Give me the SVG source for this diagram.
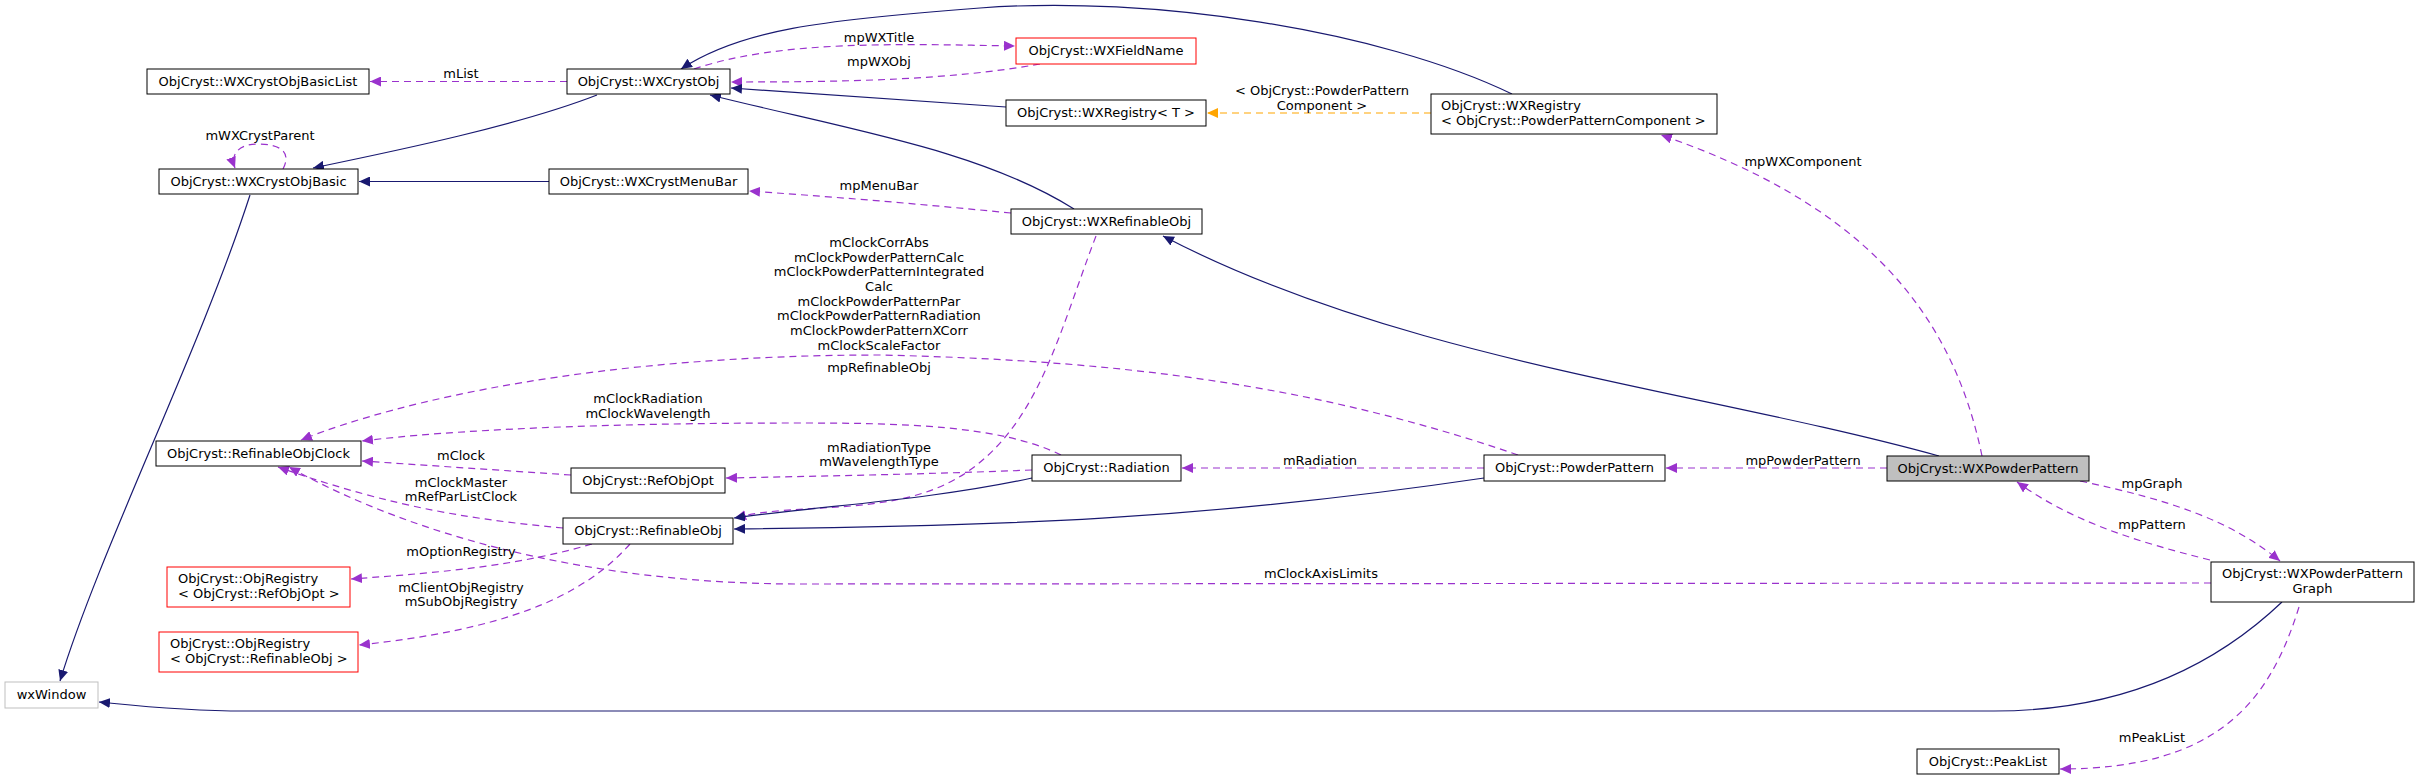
<svg xmlns="http://www.w3.org/2000/svg" width="2419" height="780" viewBox="0 0 2419 780">
<style>
text{font-family:"DejaVu Sans","Liberation Sans",sans-serif;font-size:13px;fill:#000}
.n rect{fill:#fff;stroke:#000;stroke-width:1}
.red rect{stroke:#ff0000}
.gray rect{stroke:#bfbfbf}
.sel rect{fill:#bfbfbf}
.c{text-anchor:middle}
.s{fill:none;stroke:#191970;stroke-width:1.2}
.d{fill:none;stroke:#9a32cd;stroke-width:1.2;stroke-dasharray:7,5}
.o{fill:none;stroke:#ffa500;stroke-width:1.2;stroke-dasharray:7,5}
</style>
<defs>
<marker id="an" markerUnits="userSpaceOnUse" markerWidth="12" markerHeight="10" refX="11" refY="5" orient="auto"><path d="M0,0L11,5L0,10z" fill="#191970"/></marker>
<marker id="ap" markerUnits="userSpaceOnUse" markerWidth="12" markerHeight="10" refX="11" refY="5" orient="auto"><path d="M0,0L11,5L0,10z" fill="#9a32cd"/></marker>
<marker id="ao" markerUnits="userSpaceOnUse" markerWidth="12" markerHeight="10" refX="11" refY="5" orient="auto"><path d="M0,0L11,5L0,10z" fill="#ffa500"/></marker>
</defs>
<rect width="2419" height="780" fill="#fff"/>
<g id="edges">
<path class="s" marker-end="url(#an)" d="M597,95C520,125 400,150 313,168"/>
<path class="s" marker-end="url(#an)" d="M549,181.5L359,181.5"/>
<path class="d" marker-end="url(#ap)" d="M283,169C292,152 280,144 258,144C238,144 230,155 235,168"/>
<text class="c" x="260" y="140">mWXCrystParent</text>
<path class="s" marker-end="url(#an)" d="M250,195C200,350 100,550 60,681"/>
<path class="d" marker-end="url(#ap)" d="M567,81.5L370,81.5"/>
<text class="c" x="461" y="78">mList</text>
<path class="s" marker-end="url(#an)" d="M1512,94C1380,30 1150,-5 980,8C820,20 740,30 681,69"/>
<path class="d" marker-end="url(#ap)" d="M694,69C780,40 900,44 1015,46"/>
<text class="c" x="879" y="42">mpWXTitle</text>
<path class="d" marker-end="url(#ap)" d="M1040,64C950,80 850,82 731,82"/>
<text class="c" x="879" y="66">mpWXObj</text>
<path class="s" marker-end="url(#an)" d="M1006,107L731,88"/>
<path class="s" marker-end="url(#an)" d="M1074,209C980,150 850,130 710,95"/>
<path class="o" marker-end="url(#ao)" d="M1431,113L1207,113"/>
<text class="c" x="1322" y="95">&lt; ObjCryst::PowderPattern</text>
<text class="c" x="1322" y="110">Component &gt;</text>
<path class="d" marker-end="url(#ap)" d="M1011,213C930,205 850,198 749,191"/>
<text class="c" x="879" y="190">mpMenuBar</text>
<path class="s" marker-end="url(#an)" d="M1939,456C1700,390 1400,360 1163,236"/>
<path class="d" marker-end="url(#ap)" d="M1982,456C1950,300 1850,200 1661,135"/>
<text class="c" x="1803" y="166">mpWXComponent</text>
<path class="d" marker-end="url(#ap)" d="M1096,236C1060,330 1040,420 970,470C900,520 800,500 735,518"/>
<text class="c" x="879" y="372">mpRefinableObj</text>
<path class="d" marker-end="url(#ap)" d="M1518,455C1300,380 1100,360 880,355C600,355 400,400 301,440"/>
<text class="c" x="879" y="247">mClockCorrAbs</text>
<text class="c" x="879" y="262">mClockPowderPatternCalc</text>
<text class="c" x="879" y="276">mClockPowderPatternIntegrated</text>
<text class="c" x="879" y="291">Calc</text>
<text class="c" x="879" y="306">mClockPowderPatternPar</text>
<text class="c" x="879" y="320">mClockPowderPatternRadiation</text>
<text class="c" x="879" y="335">mClockPowderPatternXCorr</text>
<text class="c" x="879" y="350">mClockScaleFactor</text>
<path class="d" marker-end="url(#ap)" d="M1061,455C1000,425 900,423 800,423C600,423 450,430 362,441"/>
<text class="c" x="648" y="403">mClockRadiation</text>
<text class="c" x="648" y="418">mClockWavelength</text>
<path class="d" marker-end="url(#ap)" d="M571,475L362,461"/>
<text class="c" x="461" y="460">mClock</text>
<path class="d" marker-end="url(#ap)" d="M563,528C480,520 400,510 278,467"/>
<text class="c" x="461" y="487">mClockMaster</text>
<text class="c" x="461" y="501">mRefParListClock</text>
<path class="d" marker-end="url(#ap)" d="M1032,470C930,474 830,476 726,478"/>
<text class="c" x="879" y="452">mRadiationType</text>
<text class="c" x="879" y="466">mWavelengthType</text>
<path class="s" marker-end="url(#an)" d="M1032,478C930,500 830,505 734,518"/>
<path class="s" marker-end="url(#an)" d="M1484,478C1200,520 1000,526 734,529"/>
<path class="d" marker-end="url(#ap)" d="M1484,468L1182,468"/>
<text class="c" x="1320" y="465">mRadiation</text>
<path class="d" marker-end="url(#ap)" d="M1887,468L1666,468"/>
<text class="c" x="1803" y="465">mpPowderPattern</text>
<path class="d" marker-end="url(#ap)" d="M2080,481C2170,500 2230,520 2280,561"/>
<text class="c" x="2152" y="488">mpGraph</text>
<path class="d" marker-end="url(#ap)" d="M2210,560C2130,540 2070,520 2017,482"/>
<text class="c" x="2152" y="529">mpPattern</text>
<path class="d" marker-end="url(#ap)" d="M2211,583L800,584C600,584 420,540 289,467"/>
<text class="c" x="1321" y="578">mClockAxisLimits</text>
<path class="d" marker-end="url(#ap)" d="M592,544C520,565 450,572 351,579"/>
<text class="c" x="461" y="556">mOptionRegistry</text>
<path class="d" marker-end="url(#ap)" d="M630,544C580,600 500,630 359,645"/>
<text class="c" x="461" y="592">mClientObjRegistry</text>
<text class="c" x="461" y="606">mSubObjRegistry</text>
<path class="s" marker-end="url(#an)" d="M2282,602C2200,680 2100,711 1994,711L245,711C180,711 130,705 99,702"/>
<path class="d" marker-end="url(#ap)" d="M2299,607C2270,700 2220,769 2060,769"/>
<text class="c" x="2152" y="742">mPeakList</text>
</g>
<g id="n_basiclist" class="n"><rect x="147" y="69" width="222" height="25"/><text class="c" x="258" y="86">ObjCryst::WXCrystObjBasicList</text></g>
<g id="n_wxcrystobj" class="n"><rect x="567" y="69" width="163" height="25"/><text class="c" x="648.5" y="86">ObjCryst::WXCrystObj</text></g>
<g id="n_basic" class="n"><rect x="159" y="169" width="199" height="25"/><text class="c" x="258.5" y="186">ObjCryst::WXCrystObjBasic</text></g>
<g id="n_menubar" class="n"><rect x="549" y="169" width="199" height="25"/><text class="c" x="648.5" y="186">ObjCryst::WXCrystMenuBar</text></g>
<g id="n_fieldname" class="n red"><rect x="1016" y="38" width="180" height="26"/><text class="c" x="1106" y="55">ObjCryst::WXFieldName</text></g>
<g id="n_wxregT" class="n"><rect x="1006" y="100" width="200" height="26"/><text class="c" x="1106" y="117">ObjCryst::WXRegistry&lt; T &gt;</text></g>
<g id="n_wxregPPC" class="n"><rect x="1431" y="94" width="286" height="40"/><text x="1441" y="110">ObjCryst::WXRegistry</text><text x="1441" y="125">&lt; ObjCryst::PowderPatternComponent &gt;</text></g>
<g id="n_wxrefobj" class="n"><rect x="1011" y="209" width="191" height="25"/><text class="c" x="1106.5" y="226">ObjCryst::WXRefinableObj</text></g>
<g id="n_clock" class="n"><rect x="156" y="441" width="205" height="25"/><text class="c" x="258.5" y="458">ObjCryst::RefinableObjClock</text></g>
<g id="n_refobjopt" class="n"><rect x="571" y="468" width="154" height="25"/><text class="c" x="648" y="485">ObjCryst::RefObjOpt</text></g>
<g id="n_refobj" class="n"><rect x="563" y="518" width="170" height="26"/><text class="c" x="648" y="535">ObjCryst::RefinableObj</text></g>
<g id="n_regopt" class="n red"><rect x="167" y="567" width="183" height="40"/><text x="178" y="583">ObjCryst::ObjRegistry</text><text x="178" y="598">&lt; ObjCryst::RefObjOpt &gt;</text></g>
<g id="n_regrefobj" class="n red"><rect x="159" y="632" width="199" height="40"/><text x="170" y="648">ObjCryst::ObjRegistry</text><text x="170" y="663">&lt; ObjCryst::RefinableObj &gt;</text></g>
<g id="n_wxwindow" class="n gray"><rect x="5" y="682" width="93" height="26"/><text class="c" x="51.5" y="699">wxWindow</text></g>
<g id="n_radiation" class="n"><rect x="1032" y="455" width="149" height="26"/><text class="c" x="1106.5" y="472">ObjCryst::Radiation</text></g>
<g id="n_powderpattern" class="n"><rect x="1484" y="455" width="181" height="26"/><text class="c" x="1574.5" y="472">ObjCryst::PowderPattern</text></g>
<g id="n_wxpp" class="n sel"><rect x="1887" y="456" width="202" height="25"/><text class="c" x="1988" y="473">ObjCryst::WXPowderPattern</text></g>
<g id="n_graph" class="n"><rect x="2211" y="562" width="203" height="40"/><text class="c" x="2312.5" y="578">ObjCryst::WXPowderPattern</text><text class="c" x="2312.5" y="593">Graph</text></g>
<g id="n_peaklist" class="n"><rect x="1917" y="749" width="142" height="25"/><text class="c" x="1988" y="766">ObjCryst::PeakList</text></g>
</svg>
